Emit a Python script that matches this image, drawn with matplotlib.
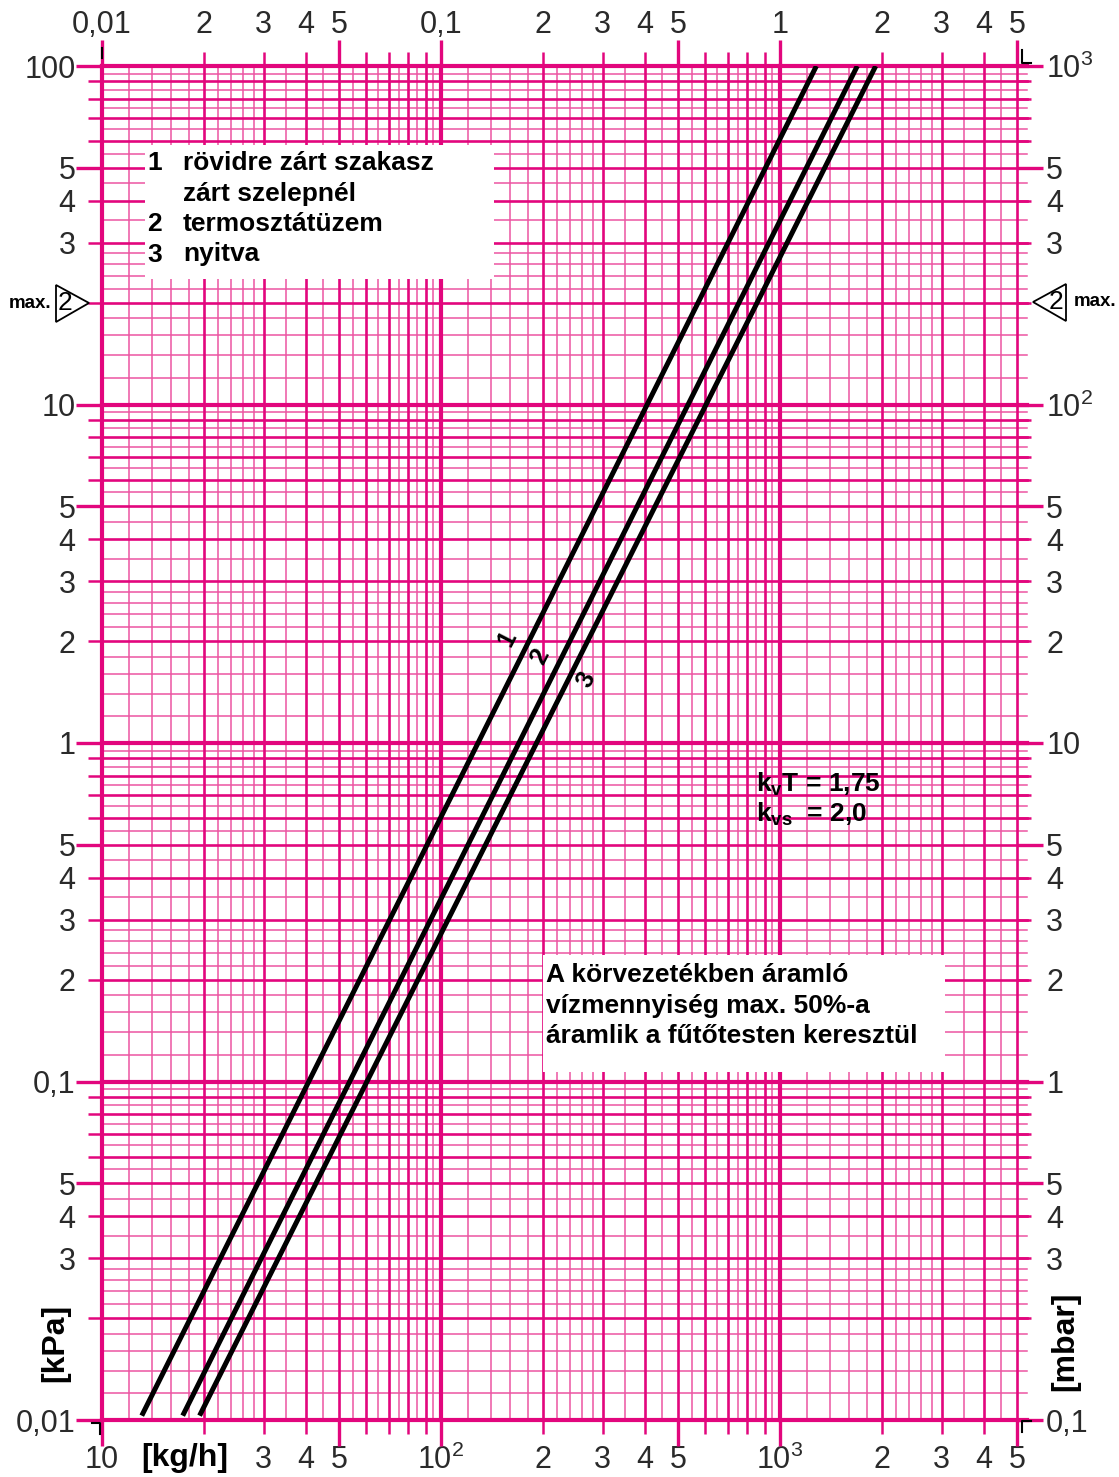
import matplotlib
matplotlib.use('Agg')
import matplotlib.pyplot as plt
from matplotlib.patches import Polygon, Rectangle
from matplotlib.lines import Line2D
from matplotlib.ticker import NullLocator

W, H = 1119, 1477
PINK = '#E2067D'
PINK_LIGHT = '#EC55A2'
NUM_FONT = ['Liberation Sans Narrow', 'Liberation Sans', 'DejaVu Sans']
TXT_FONT = ['Liberation Sans', 'DejaVu Sans']

plt.rcParams['font.family'] = TXT_FONT
plt.rcParams['mathtext.fontset'] = 'custom'
plt.rcParams['mathtext.rm'] = 'Liberation Sans'
plt.rcParams['mathtext.bf'] = 'Liberation Sans:bold'

# flow [kg/h] at both ends of each curve, pressure drop [kPa]
flow_1 = [13.1, 1280]
flow_2 = [17.3, 1690]
flow_3 = [19.4, 1915]
dp_ends = [0.0103, 100]
curve_ids = ['1', '2', '3']
curve_tag_flow = [157, 196, 268]
curve_tag_dp = [2.04, 1.80, 1.54]

# scale labels
bottom_vals = [10, 30, 40, 50, 100, 200, 300, 400, 500, 1000, 2000, 3000, 4000, 5000]
bottom_labels = ['10', '3', '4', '5', '10$^{2}$', '2', '3', '4', '5', '10$^{3}$', '2', '3', '4', '5']
top_vals = [0.01, 0.02, 0.03, 0.04, 0.05, 0.1, 0.2, 0.3, 0.4, 0.5, 1, 2, 3, 4, 5]
top_labels = ['0,01', '2', '3', '4', '5', '0,1', '2', '3', '4', '5', '1', '2', '3', '4', '5']
left_vals = [0.01, 0.03, 0.04, 0.05, 0.1, 0.2, 0.3, 0.4, 0.5, 1, 2, 3, 4, 5, 10, 30, 40, 50, 100]
left_labels = ['0,01', '3', '4', '5', '0,1', '2', '3', '4', '5', '1', '2', '3', '4', '5', '10', '3', '4', '5', '100']
right_vals = [0.1, 0.3, 0.4, 0.5, 1, 2, 3, 4, 5, 10, 20, 30, 40, 50, 100, 300, 400, 500, 1000]
right_labels = ['0,1', '3', '4', '5', '1', '2', '3', '4', '5', '10', '2', '3', '4', '5',
                '10$^{2}$', '3', '4', '5', '10$^{3}$']

legend_nums = ['1', '', '2', '3']
legend_lines = ['rövidre zárt szakasz', 'zárt szelepnél', 'termosztátüzem', 'nyitva']
note_lines = ['A körvezetékben áramló', 'vízmennyiség max. 50%-a', 'áramlik a fűtőtesten keresztül']
kv_lines = ['k$_\\mathbf{v}$T = 1,75', 'k$_\\mathbf{vs}$  = 2,0']

x_decades = [10, 100, 1000]
y_decades = [0.01, 0.1, 1, 10, 100]
x_max = 5000
fine_steps = [1.2, 1.4, 1.6, 1.8, 2.2, 2.4, 2.6, 2.8, 3.5, 4.5, 5.5, 6.5, 7.5, 8.5, 9.5]
whole_steps = [2, 3, 4, 5, 6, 7, 8, 9]


def levels(decades, top, steps):
    return [d * m for d in decades for m in steps if d * m <= top * 1.0001]


def fx(p):
    return p / W


def fy(p):
    return 1 - p / H


fig = plt.figure(figsize=(W / 100, H / 100), dpi=100)
ax = fig.add_axes([fx(102), fy(1420), (1017 - 102) / W, (1420 - 66) / H])
ax.set_xscale('log')
ax.set_yscale('log')
ax.set_xlim(10, x_max)
ax.set_ylim(0.01, 100)
for s in ax.spines.values():
    s.set_visible(False)

# log paper grid
for v in levels(x_decades, x_max, fine_steps):
    ax.axvline(v, color=PINK_LIGHT, lw=1.1, zorder=1)
for v in levels(y_decades[:-1], 100, fine_steps):
    ax.axhline(v, xmax=1.011, color=PINK_LIGHT, lw=1.1, zorder=1, clip_on=False)
for v in levels(x_decades, x_max, whole_steps):
    ax.axvline(v, color=PINK, lw=1.9, zorder=1.5, clip_on=False)
for v in levels(y_decades[:-1], 100, whole_steps):
    ax.axhline(v, xmax=1.011, color=PINK, lw=1.9, zorder=1.5, clip_on=False)
for v in x_decades:
    ax.axvline(v, color=PINK, lw=3.0, zorder=1.6, clip_on=False)
for v in y_decades:
    ax.axhline(v, xmax=1.011, color=PINK, lw=3.0, zorder=1.6, clip_on=False)

x_major = levels(x_decades, x_max, [1, 5])
x_minor = levels(x_decades, x_max, [2, 3, 4, 6, 7, 8, 9])
y_major = levels(y_decades, 100, [1, 5])
y_minor = levels(y_decades[:-1], 100, [2, 3, 4, 6, 7, 8, 9])
ax.set_xticks(x_major)
ax.set_xticks(x_minor, minor=True)
ax.set_yticks(y_major)
ax.set_yticks(y_minor, minor=True)
ax.tick_params(which='both', direction='out', color=PINK, top=True, right=True,
               labelbottom=False, labelleft=False)
ax.tick_params(which='major', length=19, width=2.4)
ax.tick_params(which='minor', length=10, width=1.8)

# scale labels on four sides
num_kw = dict(fontsize=22, family=NUM_FONT, color='#2a2a2a')
sec_b = ax.secondary_xaxis('bottom')
sec_t = ax.secondary_xaxis('top', functions=(lambda q: q / 1000, lambda q: q * 1000))
sec_l = ax.secondary_yaxis('left')
sec_r = ax.secondary_yaxis('right', functions=(lambda p: p * 10, lambda p: p / 10))
sec_b.set_xticks(bottom_vals, labels=bottom_labels, **num_kw)
sec_t.set_xticks(top_vals, labels=top_labels, **num_kw)
sec_l.set_yticks(left_vals, labels=left_labels, **num_kw)
sec_r.set_yticks(right_vals, labels=right_labels, **num_kw)
for sec, pad in [(sec_b, 18), (sec_t, 19), (sec_l, 19), (sec_r, 21)]:
    for s in sec.spines.values():
        s.set_visible(False)
    sec.xaxis.set_minor_locator(NullLocator())
    sec.yaxis.set_minor_locator(NullLocator())
    sec.tick_params(which='both', length=0, pad=pad)

# curves
for flow, cid, tx, ty in zip([flow_1, flow_2, flow_3], curve_ids, curve_tag_flow, curve_tag_dp):
    ax.plot(flow, dp_ends, color='black', lw=3.6, solid_capstyle='butt', zorder=5)
    ax.text(tx, ty, cid, rotation=63, ha='center', va='center', fontsize=18,
            fontweight='bold', zorder=6)

# white text boxes
fig.patches.append(Rectangle((fx(145), fy(279)), (494 - 145) / W, (279 - 145) / H,
                             transform=fig.transFigure, facecolor='white', edgecolor='none', zorder=3))
fig.patches.append(Rectangle((fx(543), fy(1072)), (945 - 543) / W, (1072 - 955) / H,
                             transform=fig.transFigure, facecolor='white', edgecolor='none', zorder=3))
for i, (n, t) in enumerate(zip(legend_nums, legend_lines)):
    yb = fy(170 + i * 30.5)
    fig.text(fx(147), yb, n, fontsize=19, fontweight='bold', va='baseline', zorder=4)
    fig.text(fx(183), yb, t, fontsize=19, fontweight='bold', va='baseline', zorder=4)
for i, t in enumerate(note_lines):
    fig.text(fx(546), fy(982 + i * 30.5), t, fontsize=19, fontweight='bold', va='baseline', zorder=4)
for i, t in enumerate(kv_lines):
    fig.text(fx(756), fy(792 + i * 30), t, fontsize=19, fontweight='bold', va='baseline', zorder=4)

# unit labels
fig.text(fx(185), fy(1458), '[kg/h]', fontsize=23, fontweight='bold', ha='center', va='center')
fig.text(fx(55), fy(1343), '[kPa]', fontsize=23, fontweight='bold', ha='center', va='center', rotation=90)
fig.text(fx(1065), fy(1341), '[mbar]', fontsize=23, fontweight='bold', ha='center', va='center', rotation=90)

# "max. 2" markers
fig.patches.append(Polygon([(fx(56), fy(285)), (fx(56), fy(322)), (fx(89), fy(303))], closed=True,
                           transform=fig.transFigure, facecolor='white', edgecolor='black', lw=1.3))
fig.patches.append(Polygon([(fx(1066), fy(284)), (fx(1066), fy(321)), (fx(1033), fy(302))], closed=True,
                           transform=fig.transFigure, facecolor='white', edgecolor='black', lw=1.3))
fig.text(fx(65), fy(303), '2', fontsize=19, ha='center', va='center', family=NUM_FONT)
fig.text(fx(1056), fy(302), '2', fontsize=19, ha='center', va='center', family=NUM_FONT)
fig.text(fx(9), fy(304), 'max.', fontsize=13.5, fontweight='bold', ha='left', va='center', family=NUM_FONT)
fig.text(fx(1074), fy(302), 'max.', fontsize=13.5, fontweight='bold', ha='left', va='center', family=NUM_FONT)

# corner marks
for xs, ys in [([1022, 1022, 1031], [50, 63, 63]), ([1031, 1022, 1022], [1421, 1421, 1432]),
               ([92, 100, 100], [1423, 1423, 1434]), ([102, 102], [48, 58])]:
    fig.add_artist(Line2D([fx(v) for v in xs], [fy(v) for v in ys], color='black', lw=1.5,
                          transform=fig.transFigure))

fig.savefig('out.png', dpi=100, facecolor='white')
